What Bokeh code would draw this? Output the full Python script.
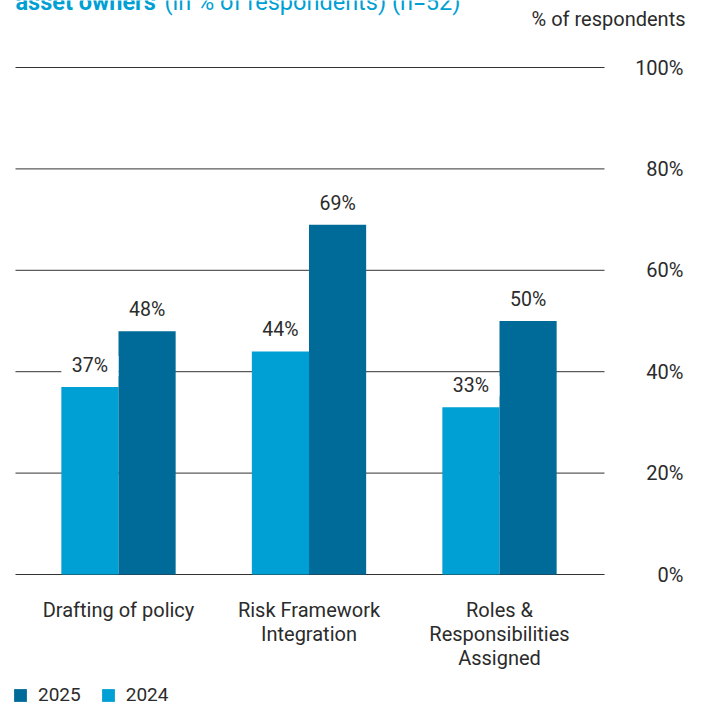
from bokeh.plotting import figure
from bokeh.models import ColumnDataSource, Legend, LegendItem
from bokeh.core.properties import value
from bokeh.transform import dodge
from bokeh.embed import file_html
from bokeh.resources import INLINE

categories = ["Drafting of policy", "Risk Framework\nIntegration",
              "Roles &\nResponsibilities\nAssigned"]
values_2024 = [37, 44, 33]
values_2025 = [48, 69, 50]
y_ticks = [0, 20, 40, 60, 80, 100]
y_tick_labels = ["0%", "20%", "40%", "60%", "80%", "100%"]
title_bold = "asset owners"
title_rest = "(in % of respondents) (n=52)"
unit_label = "% of respondents"

FONT = "Roboto"
C24 = "#009fd4"
C25 = "#006a98"
TXT = "#2b2b2b"
GRID = "#333333"

W, H = 702, 707
# layout (pixels): group 0 centre at x=118, group spacing 190.5 px,
# value 0 at y=574, value 100 at y=67
PX_X = 190.5
PX_Y = 5.07
X0_PIX, Y0_PIX = 118, 574


def xd(pix):
    return (pix - X0_PIX) / PX_X


def yd(pix):
    return (Y0_PIX - pix) / PX_Y


idx = list(range(len(categories)))
BW = 0.30

p = figure(width=W, height=H, output_backend="svg", toolbar_location=None,
           x_range=(xd(0), xd(W)), y_range=(yd(H), yd(0)),
           x_axis_location=None, y_axis_location=None,
           min_border_left=0, min_border_right=0, min_border_top=0,
           min_border_bottom=0, outline_line_color=None,
           background_fill_color="white", border_fill_color="white")
p.xgrid.visible = False
p.ygrid.visible = False

# horizontal gridlines at tick values
p.segment(x0=[xd(15)] * len(y_ticks), x1=[xd(604)] * len(y_ticks),
          y0=y_ticks, y1=y_ticks, line_color=GRID, line_width=1)

# y tick labels (right side)
p.text(x=[xd(683)] * len(y_ticks), y=y_ticks, text=y_tick_labels,
       text_align="right", text_baseline="middle", text_font=value(FONT),
       text_font_size="20px", text_color=TXT)

x24 = [i - BW / 2 for i in idx]
x25 = [i + BW / 2 for i in idx]
src24 = ColumnDataSource(dict(x=x24, top=values_2024,
                              lab=[f"{v}%" for v in values_2024]))
src25 = ColumnDataSource(dict(x=x25, top=values_2025,
                              lab=[f"{v}%" for v in values_2025]))

r24 = p.vbar(x="x", top="top", width=BW, bottom=0, source=src24,
             fill_color=C24, line_color=None)
r25 = p.vbar(x="x", top="top", width=BW, bottom=0, source=src25,
             fill_color=C25, line_color=None)

# value labels with white backing boxes
for s in (src24, src25):
    p.rect(x="x", y=dodge("top", 21 / PX_Y), width=BW, height=20,
           height_units="screen", source=s, fill_color="white",
           line_color=None)
    p.text(x="x", y=dodge("top", 21.5 / PX_Y), text="lab", source=s,
           text_align="center", text_baseline="alphabetic",
           text_font=value(FONT), text_font_size="19.5px", text_color=TXT)

# category labels
p.text(x=idx, y=[yd(597)] * len(idx), text=categories, text_align="center",
       text_baseline="top", text_font=value(FONT), text_font_size="20px",
       text_color=TXT, text_line_height=1.0)

# unit label and clipped title
p.text(x=[xd(685)], y=[yd(18)], text=[unit_label], text_align="right",
       text_baseline="middle", text_font=value(FONT), text_font_size="20px",
       text_color=TXT)
p.text(x=[xd(15)], y=[yd(1)], text=[title_bold], text_align="left",
       text_baseline="alphabetic", text_font=value(FONT),
       text_font_size="23.5px", text_font_style="bold", text_color=C24)
p.text(x=[xd(164)], y=[yd(1)], text=[title_rest], text_align="left",
       text_baseline="alphabetic", text_font=value(FONT),
       text_font_size="23.5px", text_color=C24)

legend = Legend(items=[LegendItem(label="2025", renderers=[r25]),
                       LegendItem(label="2024", renderers=[r24])],
                orientation="horizontal", location=(12, 1),
                glyph_width=16, glyph_height=16, label_height=20,
                label_standoff=10, spacing=19,
                padding=0, margin=0, border_line_color=None,
                background_fill_alpha=0, label_text_font=FONT,
                label_text_font_size="19px", label_text_color=TXT)
p.add_layout(legend)

open("out.html", "w").write(file_html(p, INLINE))
